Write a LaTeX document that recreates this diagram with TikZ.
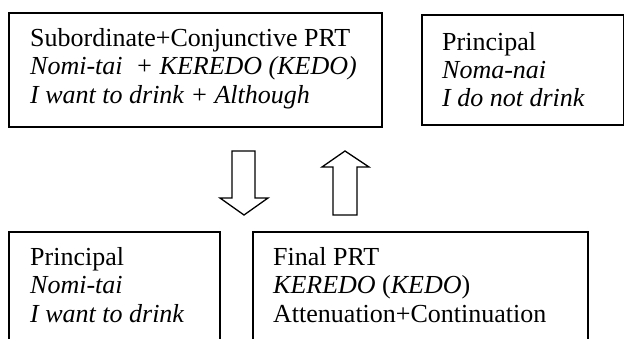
\documentclass[tikz,border=0pt]{standalone}
\usepackage{fontspec}
\setmainfont{Liberation Serif}
\begin{document}
\begin{tikzpicture}[x=1pt,y=-1pt,
  boxline/.style={draw=black,line width=1.3pt},
  blockarrow/.style={draw=black,line width=1.3pt,line join=miter,fill=white},
  txt/.style={anchor=base west,inner sep=0pt,font=\fontsize{26}{28.5}\selectfont}]
\useasboundingbox (0,0) rectangle (625,338);
\clip (0,0) rectangle (625,338);
% boxes
\draw[boxline] (9,13) rectangle (382,127);
\draw[boxline] (422,15) rectangle (623.5,125);
\draw[boxline] (9,232) rectangle (220,350);
\draw[boxline] (253,232) rectangle (588,350);
% block arrows
\draw[blockarrow] (232,151) -- (255,151) -- (255,198) -- (268,198) -- (244,215) -- (220,198) -- (232,198) -- cycle;
\draw[blockarrow] (333,215) -- (357,215) -- (357,167) -- (369,167) -- (345,151) -- (322,167) -- (333,167) -- cycle;
% texts
\node[txt] (tl1) at (30,46) {Subordinate+Conjunctive PRT};
\node[txt] (tl2) at (30,74.5) {\itshape Nomi-tai\ \ + KEREDO (KEDO)};
\node[txt] (tl3) at (30,103) {\itshape I want to drink + Although};
\node[txt] (tr1) at (442,50) {Principal};
\node[txt] (tr2) at (442,78) {\itshape Noma-nai};
\node[txt] (tr3) at (442,106.5) {\itshape I do not drink};
\node[txt] (bl1) at (30,265) {Principal};
\node[txt] (bl2) at (30,293.5) {\itshape Nomi-tai};
\node[txt] (bl3) at (30,322) {\itshape I want to drink};
\node[txt] (br1) at (273,265) {Final PRT};
\node[txt] (br2) at (273,293.5) {\textit{KEREDO} (\textit{KEDO})};
\node[txt] (br3) at (273,322) {Attenuation+Continuation};
\end{tikzpicture}
\end{document}
